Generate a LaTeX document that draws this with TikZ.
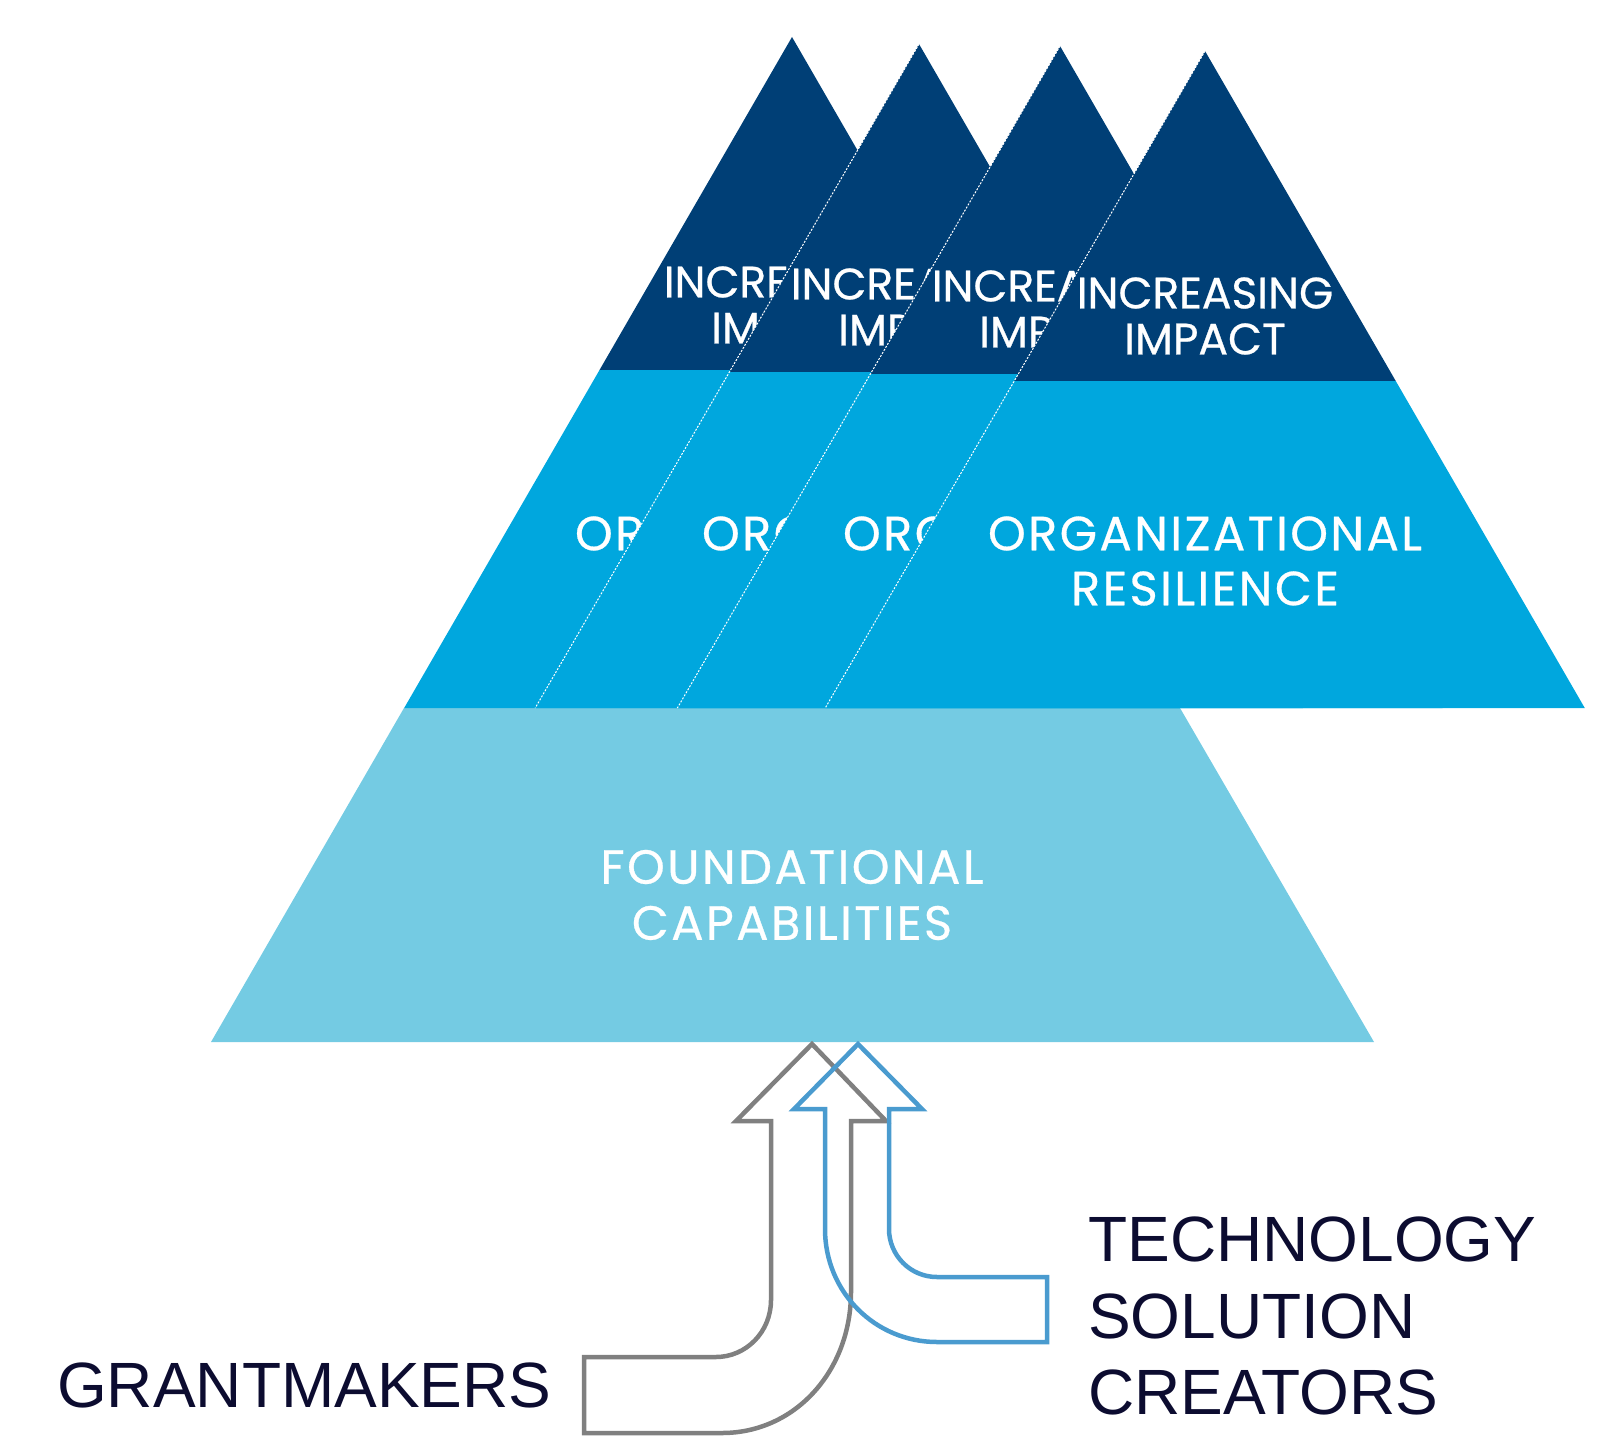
\documentclass[tikz,border=0pt]{standalone}
\usepackage{fontspec}
\setmainfont{Liberation Sans}
\newfontfamily\pyrfont{Poppins}[FakeBold=0.6]
\newfontfamily\pyrwide{Poppins}[FakeBold=0.6, LetterSpace=5]
\definecolor{impactblue}{RGB}{0,63,118}
\definecolor{resilblue}{RGB}{0,167,222}
\definecolor{foundblue}{RGB}{116,203,227}
\definecolor{labelnavy}{RGB}{12,12,48}
\definecolor{grantgray}{RGB}{128,128,128}
\definecolor{techblue}{RGB}{74,155,207}
\tikzset{
  tiertext/.style={text=white, align=center, inner sep=0pt},
  sidelabel/.style={text=labelnavy, font=\fontsize{64}{77}\selectfont, anchor=base west, inner sep=0pt},
  seam/.style={draw=white, line width=1pt, dash pattern=on 2pt off 1.5pt},
  arrowline/.style={line width=4.5pt, line join=miter}
}
\begin{document}
\begin{tikzpicture}[x=1pt,y=-1pt]
  \useasboundingbox (0,0) rectangle (1613,1439);
  % foundation band of the first pyramid
  \fill[foundblue] (211,1042) -- (1374,1042) -- (1180,708) -- (404,708) -- cycle;
  \node[tiertext, font=\pyrwide\fontsize{48}{56}\selectfont] (found) at (792,895) {FOUNDATIONAL\\CAPABILITIES};
  % the four stacked pyramids, later ones in front
  \foreach \ax/\ay/\yb [count=\i, evaluate=\ay as \da using 0.578*(\yb-\ay), evaluate=\ay as \db using 0.578*(708-\ay)] in {792/37/370, 919/44/372, 1060/46/374, 1205/51/381}{
    \fill[impactblue] (\ax,\ay) -- (\ax+\da,\yb) -- (\ax-\da,\yb) -- cycle;
    \fill[resilblue] (\ax-\da,\yb) -- (\ax+\da,\yb) -- (\ax+\db,708) -- (\ax-\db,708) -- cycle;
    \node[tiertext, font=\pyrfont\fontsize{44}{46}\selectfont] (impact\i) at (\ax,\yb-65) {INCREASING\\IMPACT};
    \node[tiertext, font=\pyrwide\fontsize{48}{55}\selectfont] (resil\i) at (\ax,561) {ORGANIZATIONAL\\RESILIENCE};
    \ifnum\i>1
      \draw[seam] (\ax,\ay) -- (\ax-\db,708);
    \fi
  }
  % block arrows
  \draw[arrowline, grantgray] (812,1044) -- (886,1121) -- (851,1121) -- (851,1292)
    .. controls (851,1371) and (795,1433) .. (722,1433) -- (584,1433) -- (584,1357) -- (716,1357)
    .. controls (746,1357) and (771,1332) .. (771,1300) -- (771,1121) -- (736,1121) -- cycle;
  \draw[arrowline, techblue] (858,1044) -- (922,1109) -- (889,1109) -- (889,1229)
    .. controls (889,1255) and (910,1277) .. (937,1277) -- (1047,1277) -- (1047,1342) -- (937,1342)
    .. controls (875,1342) and (825,1292) .. (825,1229) -- (825,1109) -- (794,1109) -- cycle;
  % labels
  \node[sidelabel] (grant) at (57,1407) {GRANTMAKERS};
  \node[sidelabel] (techA) at (1088,1261) {TECHNOLOGY};
  \node[sidelabel] (techB) at (1088,1338) {SOLUTION};
  \node[sidelabel] (techC) at (1088,1414) {CREATORS};
\end{tikzpicture}
\end{document}
